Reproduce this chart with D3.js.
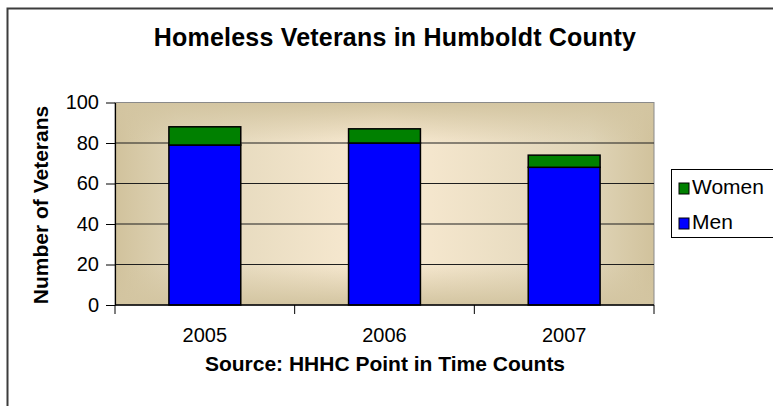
<!DOCTYPE html>
<html>
<head>
<meta charset="utf-8">
<script src="https://cdn.jsdelivr.net/npm/d3@7"></script>
<style>
  html, body { margin: 0; padding: 0; background: #fff; }
  svg { display: block; font-family: Arial, "Liberation Sans", sans-serif; }
</style>
</head>
<body>
<svg id="chart" width="773" height="406"></svg>
<script>
// Homeless veterans counted per year, split by gender
const years = ["2005", "2006", "2007"];
const men = [79, 80, 68];
const women = [9, 7, 6];
const yTicks = [0, 20, 40, 60, 80, 100];
const seriesNames = ["Men", "Women"];
const seriesColors = { Men: "#0000ff", Women: "#008000" };

const svg = d3.select("#chart");

// Frame around the whole chart
svg.append("rect")
  .attr("x", 7.5).attr("y", 8.5)
  .attr("width", 800).attr("height", 420)
  .attr("fill", "#fff")
  .attr("stroke", "#3c3c3c").attr("stroke-width", 2);

const plot = { left: 115, right: 654, top: 102.5, bottom: 305 };

const x = d3.scaleBand()
  .domain(years)
  .range([plot.left, plot.right])
  .paddingInner(0.6)
  .paddingOuter(0.3);

const y = d3.scaleLinear()
  .domain([0, 100])
  .range([plot.bottom, plot.top]);

// Plot-area fill: soft tan edges fading to a light cream centre
const defs = svg.append("defs");
const gh = defs.append("linearGradient").attr("id", "bgH")
  .attr("x1", 0).attr("x2", 1).attr("y1", 0).attr("y2", 0);
[[0, "#d1c29c"], [0.12, "#e0d5b8"], [0.5, "#faebd3"], [0.88, "#e0d5b8"], [1, "#d1c29c"]]
  .forEach(([o, c]) => gh.append("stop").attr("offset", o).attr("stop-color", c));
const gv = defs.append("linearGradient").attr("id", "bgV")
  .attr("x1", 0).attr("x2", 0).attr("y1", 0).attr("y2", 1);
[[0, 1], [0.2, 0], [0.8, 0], [1, 1]]
  .forEach(([o, a]) => gv.append("stop").attr("offset", o)
    .attr("stop-color", "#d3c5a1").attr("stop-opacity", a));

svg.append("rect")
  .attr("x", plot.left).attr("y", plot.top)
  .attr("width", plot.right - plot.left).attr("height", plot.bottom - plot.top)
  .attr("fill", "url(#bgH)");
svg.append("rect")
  .attr("x", plot.left).attr("y", plot.top)
  .attr("width", plot.right - plot.left).attr("height", plot.bottom - plot.top)
  .attr("fill", "url(#bgV)")
  .attr("stroke", "#8a8a8a").attr("stroke-width", 1);

// Horizontal gridlines
svg.append("g")
  .selectAll("line")
  .data(yTicks.filter(t => t > 0 && t < 100))
  .join("line")
  .attr("x1", plot.left).attr("x2", plot.right)
  .attr("y1", d => y(d)).attr("y2", d => y(d))
  .attr("stroke", "#1e1e1e").attr("stroke-width", 1);

// Stacked bars
const rows = years.map((yr, i) => ({ year: yr, Men: men[i], Women: women[i] }));
const stacked = d3.stack().keys(seriesNames)(rows);

svg.append("g")
  .selectAll("g")
  .data(stacked)
  .join("g")
  .attr("fill", d => seriesColors[d.key])
  .selectAll("rect")
  .data(d => d)
  .join("rect")
  .attr("x", d => x(d.data.year))
  .attr("width", x.bandwidth())
  .attr("y", d => y(d[1]))
  .attr("height", d => y(d[0]) - y(d[1]))
  .attr("stroke", "#000")
  .attr("stroke-width", 1.5);

// Y axis
const yAxis = svg.append("g")
  .attr("transform", `translate(${plot.left},0)`)
  .call(d3.axisLeft(y).tickValues(yTicks).tickSize(9).tickPadding(7).tickSizeOuter(0));
yAxis.select(".domain").attr("stroke", "#000").attr("stroke-width", 1.2);
yAxis.selectAll(".tick line").attr("stroke", "#000");
yAxis.selectAll(".tick text")
  .attr("font-size", 20).attr("fill", "#000")
  .attr("font-family", "Arial, 'Liberation Sans', sans-serif");

// X axis: ticks fall between categories
const xAxisG = svg.append("g").attr("transform", `translate(0,${plot.bottom})`);
xAxisG.append("line")
  .attr("x1", plot.left).attr("x2", plot.right)
  .attr("stroke", "#000").attr("stroke-width", 1.5);
const step = x.step();
const boundaries = d3.range(years.length + 1).map(i => plot.left + i * step);
xAxisG.selectAll("line.tk")
  .data(boundaries)
  .join("line").attr("class", "tk")
  .attr("x1", d => d).attr("x2", d => d)
  .attr("y1", 0).attr("y2", 9)
  .attr("stroke", "#000").attr("stroke-width", 1);
xAxisG.selectAll("text")
  .data(years)
  .join("text")
  .attr("x", d => x(d) + x.bandwidth() / 2)
  .attr("y", 37)
  .attr("text-anchor", "middle")
  .attr("font-size", 20)
  .text(d => d);

// Titles
svg.append("text")
  .attr("x", 395).attr("y", 46)
  .attr("text-anchor", "middle")
  .attr("font-size", 25).attr("font-weight", "bold")
  .attr("letter-spacing", 0.2)
  .text("Homeless Veterans in Humboldt County");

svg.append("text")
  .attr("transform", "translate(48,205) rotate(-90)")
  .attr("text-anchor", "middle")
  .attr("font-size", 21).attr("font-weight", "bold")
  .text("Number of Veterans");

svg.append("text")
  .attr("x", 385).attr("y", 371)
  .attr("text-anchor", "middle")
  .attr("font-size", 21).attr("font-weight", "bold")
  .text("Source: HHHC Point in Time Counts");

// Legend
const legend = svg.append("g").attr("transform", "translate(671,169)");
legend.append("rect")
  .attr("x", 0.5).attr("y", 0.5).attr("width", 130).attr("height", 68)
  .attr("fill", "#fff").attr("stroke", "#000").attr("stroke-width", 1);
const legendItems = ["Women", "Men"];
const li = legend.selectAll("g.item")
  .data(legendItems)
  .join("g").attr("class", "item")
  .attr("transform", (d, i) => `translate(8,${14 + i * 35})`);
li.append("rect")
  .attr("width", 10).attr("height", 11)
  .attr("fill", d => seriesColors[d])
  .attr("stroke", "#000").attr("stroke-width", 1);
li.append("text")
  .attr("x", 13).attr("y", 11)
  .attr("font-size", 21)
  .text(d => d);
</script>
</body>
</html>
